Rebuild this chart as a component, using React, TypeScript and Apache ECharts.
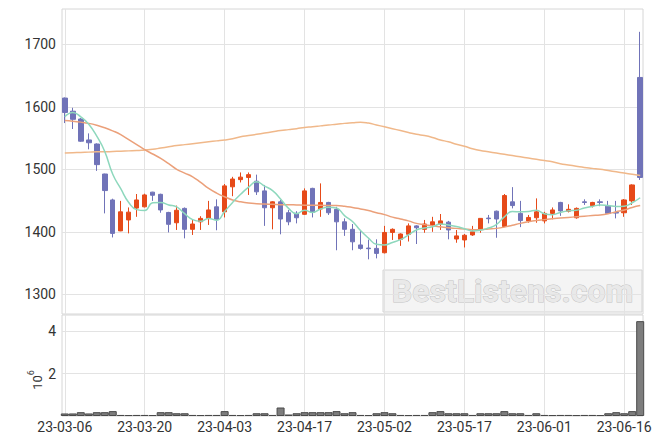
import React, { useEffect, useRef } from 'react';
import * as echarts from 'echarts';

const dates = [
  '23-03-06','23-03-07','23-03-08','23-03-09','23-03-10','23-03-13','23-03-14','23-03-15','23-03-16','23-03-17',
  '23-03-20','23-03-21','23-03-22','23-03-23','23-03-24','23-03-27','23-03-28','23-03-29','23-03-30','23-03-31',
  '23-04-03','23-04-04','23-04-05','23-04-06','23-04-07','23-04-10','23-04-11','23-04-12','23-04-13','23-04-14',
  '23-04-17','23-04-18','23-04-19','23-04-20','23-04-21','23-04-24','23-04-25','23-04-26','23-04-27','23-04-28',
  '23-05-02','23-05-03','23-05-04','23-05-08','23-05-09','23-05-10','23-05-11','23-05-12','23-05-15','23-05-16',
  '23-05-17','23-05-18','23-05-19','23-05-22','23-05-23','23-05-24','23-05-25','23-05-26','23-05-30','23-05-31',
  '23-06-01','23-06-02','23-06-05','23-06-07','23-06-08','23-06-09','23-06-12','23-06-13','23-06-14','23-06-15',
  '23-06-16','23-06-19','23-06-20'
];

const opens = [
  1614,1593,1580.5,1547,1540.5,1492.5,1451,1401.5,1419,1438,
  1440,1463.5,1460,1431,1414.5,1437.5,1404,1416,1421.5,1440,
  1432,1472,1483.5,1487,1481,1465.5,1438.5,1448,1430.5,1429.5,
  1428,1469.5,1436.5,1447,1436,1416,1404,1379,1374,1373.5,
  1366.5,1399,1388,1396,1409.5,1404,1411,1412.5,1415.5,1388.5,
  1387,1395,1404.5,1422,1433,1408.5,1448,1429.5,1417.5,1422.5,
  1417.5,1429.5,1447,1433,1422.5,1448,1442,1448,1441,1431,
  1430.5,1449.5,1647
];
const closes = [
  1591,1580,1545,1542.5,1507.5,1466,1397.5,1432,1431.5,1451,
  1459,1458.5,1435,1412,1434.5,1404,1412.5,1421.5,1435,1420,
  1473.5,1484.5,1487.5,1491.5,1464,1438.5,1448,1420.5,1416,1422.5,
  1465.5,1431,1447,1430.5,1416,1404,1384,1373.5,1373,1365.5,
  1399,1404,1396.5,1409.5,1406.5,1412.5,1416,1417.5,1403,1393.5,
  1394.5,1400,1421.5,1421,1420.5,1458,1442,1418,1423,1432,
  1429.5,1435,1433.5,1436,1437.5,1447,1447,1447,1429.5,1430,
  1451,1475,1487
];
const lows = [
  1574,1564.5,1544,1532,1497.5,1429.5,1391,1401,1397.5,1424,
  1439,1449.5,1430.5,1399,1403,1389.5,1395,1403,1411,1402.5,
  1423,1457,1479,1459,1459,1409.5,1404,1396,1410.5,1413.5,
  1427,1423,1424,1427,1370.5,1393.5,1370.5,1371.5,1356,1357.5,
  1365.5,1387,1377.5,1384.5,1380.5,1398.5,1400,1403,1388,1382.5,
  1375,1393.5,1398.5,1413.5,1390.5,1407.5,1437.5,1407.5,1414.5,1414.5,
  1413.5,1420,1425.5,1431,1421,1443,1439,1441,1428.5,1421.5,
  1424,1443,1483
];
const highs = [
  1615,1598.5,1582,1557.5,1541.5,1493,1453,1449.5,1439,1460.5,
  1461,1464,1461,1432,1442,1439,1419,1425,1449.5,1452,
  1476.5,1488,1495,1495,1491.5,1475,1449,1451,1435,1433,
  1469.5,1470.5,1477.5,1448,1440,1421.5,1412.5,1403,1387.5,1388,
  1409.5,1405.5,1397.5,1413.5,1410.5,1419,1424,1428.5,1417.5,1403,
  1396.5,1409.5,1422,1427,1434,1460.5,1471.5,1449.5,1427,1453.5,
  1432,1439,1448,1444,1439,1452,1448,1452,1449.5,1449.5,
  1452.5,1476,1720
];
const volumes = [
  120000,120000,180000,120000,180000,180000,230000,50000,45000,50000,
  50000,45000,180000,180000,130000,130000,50000,45000,50000,50000,
  230000,50000,45000,50000,130000,130000,50000,400000,70000,130000,
  180000,180000,180000,180000,230000,130000,180000,50000,45000,130000,
  180000,130000,50000,45000,50000,50000,180000,230000,130000,130000,
  130000,50000,130000,130000,130000,230000,130000,130000,50000,130000,
  50000,45000,50000,50000,45000,50000,50000,45000,130000,180000,
  130000,230000,4470000
];
const ma5 = [
  1584,1591,1584,1572,1553,1528.5,1492,1469,1447,1435.5,
  1434,1446.5,1447,1443,1440,1429,1419.5,1417,1421.5,1418.5,
  1432.5,1447,1460,1471.5,1480,1473,1466,1452.5,1437.5,1429,
  1434.5,1431,1436.5,1439.5,1438,1426,1416.5,1402,1390,1380,
  1379,1383,1387.5,1395,1403,1406,1408,1412.5,1411,1408.5,
  1405,1401.5,1402.5,1406,1411.5,1424,1432.5,1432,1432.5,1434.5,
  1429,1427.5,1431,1433.5,1434.5,1438,1440.5,1443,1442,1440.5,
  1441,1446.5,1454.5
];
const ma20 = [
  1578,1577,1575.5,1573.5,1570.5,1566.5,1561.5,1555.5,1547.5,1539.5,
  1531.5,1524.5,1517.5,1509,1500,1494,1488,1479,1469.5,1462,
  1456,1451,1448,1446,1445,1444.5,1444,1443.5,1443.5,1443,
  1442.5,1442.5,1442.5,1442,1442,1441,1439,1436.5,1434,1430.5,
  1427.5,1423.5,1420.5,1417.5,1413.5,1411.5,1409.5,1408,1406.5,1405.5,
  1404.5,1403.5,1403.5,1404.5,1405.5,1407.5,1410.5,1413.5,1416,1418,
  1419.5,1421,1422,1423,1424,1425,1426,1427,1429,1432,
  1435,1439,1442
];
const ma60 = [
  1526,1526.5,1527,1527.5,1528,1528,1528.5,1529,1529.5,1530,
  1531,1532,1534,1536,1538,1539.5,1541,1542.5,1544,1545.5,
  1547,1549,1552,1554,1556,1558,1560,1562,1563.5,1565,
  1567,1568,1569.5,1571,1572,1573.5,1574.5,1575.5,1574,1571,
  1568,1565,1562,1559,1556,1554,1551,1547,1544,1540,
  1537,1533,1530,1528,1526,1524,1522,1520,1518,1516,
  1514,1512,1509,1507,1505,1503,1501.5,1500,1498,1496,
  1494,1492,1490
];
const dateTickIdx = [0, 10, 20, 30, 40, 50, 60, 70];
const priceTicks = [1300, 1400, 1500, 1600, 1700];
const volumeTicks = [2000000, 4000000];

export default function App() {
  const ref = useRef<HTMLDivElement>(null);
  useEffect(() => {
    if (!ref.current) return;
    const chart = echarts.init(ref.current, null, { renderer: 'svg' });
    const candleData = dates.map((_, i) => [i, opens[i], closes[i], lows[i], highs[i]]);
    const volData = dates.map((_, i) => [i, volumes[i]]);
    const line = (arr: number[]) => dates.map((_, i) => [i, arr[i]]);
    const gridLine = { show: true, lineStyle: { color: '#e3e3e3', width: 1 } };
    const labelColor = '#333';
    chart.setOption({
      animation: false,
      backgroundColor: '#ffffff',
      textStyle: { fontFamily: 'Roboto' },
      grid: [
        { left: 62, right: 20, top: 9, height: 305, show: true, borderColor: '#d6d6d6', borderWidth: 1, backgroundColor: 'transparent', containLabel: false, outerBoundsMode: 'none' },
        { left: 62, right: 20, top: 315, height: 101, show: true, borderColor: '#d6d6d6', borderWidth: 1, backgroundColor: 'transparent', containLabel: false, outerBoundsMode: 'none' },
      ],
      xAxis: [
        {
          type: 'value', gridIndex: 0, min: -0.35, max: 72.35,
          axisLine: { show: false },
          axisTick: { show: false, customValues: dateTickIdx },
          axisLabel: { show: false, customValues: dateTickIdx },
          splitLine: gridLine,
        },
        {
          type: 'value', gridIndex: 1, min: -0.35, max: 72.35,
          axisLine: { show: false },
          axisTick: { show: false, customValues: dateTickIdx },
          axisLabel: {
            show: true, customValues: dateTickIdx,
            formatter: (v: number) => dates[Math.round(v)] || '',
            color: labelColor, fontSize: 14, margin: 4, fontFamily: 'Roboto',
            hideOverlap: false, showMinLabel: true, showMaxLabel: true,
          },
          splitLine: gridLine,
        },
      ],
      yAxis: [
        {
          type: 'value', gridIndex: 0, min: 1268.5, max: 1756.5, scale: true,
          axisLine: { show: false },
          axisTick: { show: false, customValues: priceTicks },
          axisLabel: {
            customValues: priceTicks, color: labelColor, fontSize: 14, margin: 6, fontFamily: 'Roboto',
            formatter: (v: number) => String(Math.round(v)),
          },
          splitLine: gridLine,
        },
        {
          type: 'value', gridIndex: 1, min: 0, max: 4760000,
          axisLine: { show: false },
          axisTick: { show: false, customValues: volumeTicks },
          axisLabel: {
            customValues: volumeTicks, color: labelColor, fontSize: 14, margin: 6, fontFamily: 'Roboto',
            formatter: (v: number) => String(Math.round(v / 1e6)),
          },
          splitLine: gridLine,
        },
      ],
      series: [
        {
          type: 'candlestick', xAxisIndex: 0, yAxisIndex: 0,
          data: candleData,
          encode: { x: 0, y: [1, 2, 3, 4] },
          barWidth: 5,
          itemStyle: { color: '#E64A19', color0: '#7073B8', borderColor: '#E64A19', borderColor0: '#7073B8', borderWidth: 1 },
        },
        {
          type: 'line', xAxisIndex: 0, yAxisIndex: 0, data: line(ma60), showSymbol: false, smooth: true,
          lineStyle: { color: '#F0B88A', width: 1.5 },
        },
        {
          type: 'line', xAxisIndex: 0, yAxisIndex: 0, data: line(ma20), showSymbol: false, smooth: true,
          lineStyle: { color: '#EBA07A', width: 1.5 },
        },
        {
          type: 'line', xAxisIndex: 0, yAxisIndex: 0, data: line(ma5), showSymbol: false, smooth: true,
          lineStyle: { color: '#8ED8BD', width: 1.5 },
        },
        {
          type: 'bar', xAxisIndex: 1, yAxisIndex: 1, data: volData, barWidth: 8,
          itemStyle: { color: '#7d7d7d', borderColor: '#4a4a4a', borderWidth: 1 },
        },
      ],
      graphic: [
        {
          type: 'text', x: 35, y: 380, rotation: Math.PI / 2, z: 100,
          style: {
            text: '{a|10}{b|6}',
            align: 'center', verticalAlign: 'middle',
            rich: {
              a: { fontSize: 13, fontFamily: 'Roboto', fill: labelColor, lineHeight: 18, verticalAlign: 'bottom' },
              b: { fontSize: 9, fontFamily: 'Roboto', fill: labelColor, lineHeight: 18, verticalAlign: 'top' },
            },
          },
        },
        {
          type: 'group', z: 50, children: [
            { type: 'rect', shape: { x: 383, y: 270, width: 259, height: 42 }, style: { fill: 'rgba(236,236,236,0.6)', stroke: '#d4d4d4', lineWidth: 1 } },
            {
              type: 'text', x: 512.5, y: 291,
              style: { text: 'BestListens.com', fontSize: 32, fontWeight: 'bold', fontFamily: 'Roboto', fill: '#e9e9e9', stroke: '#c2c2c2', lineWidth: 1, align: 'center', verticalAlign: 'middle' },
            },
          ],
        },
      ],
    });
    return () => chart.dispose();
  }, []);
  return <div ref={ref} style={{ position: 'fixed', left: 0, top: 0, width: 663, height: 444 }} />;
}
